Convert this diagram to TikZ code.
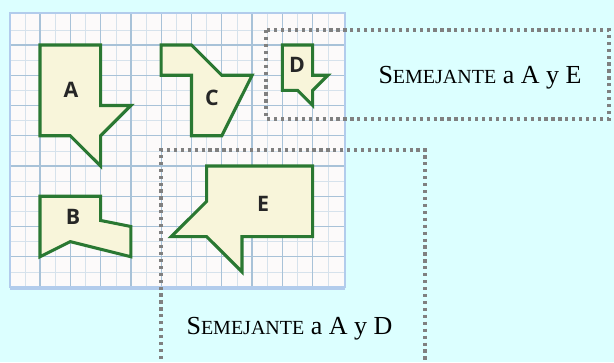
\documentclass[tikz,border=0pt]{standalone}
\usepackage{fontspec}
\setmainfont{Liberation Serif}
\newfontfamily\lblfont{Open Sans}
\definecolor{bgcyan}{RGB}{220,255,255}
\definecolor{paper}{RGB}{252,250,250}
\definecolor{gridmaj}{RGB}{168,194,216}
\definecolor{gridmin}{RGB}{214,226,236}
\definecolor{paperedge}{RGB}{178,204,236}
\definecolor{shapefill}{RGB}{248,245,218}
\definecolor{shapeline}{RGB}{42,120,50}
\definecolor{dotgray}{RGB}{128,128,128}
\tikzset{
  gridline/.style={draw=gridmaj, line width=1pt},
  minorline/.style={draw=gridmin, line width=0.6pt},
  figure/.style={draw=shapeline, fill=shapefill, line width=2.3pt, line join=miter},
  letter/.style={font=\lblfont\bfseries\fontsize{16}{16}\selectfont, text=black!85, inner sep=0pt},
  dotbox/.style={draw=dotgray, line width=2.4pt, dash pattern=on 2.4pt off 2.8pt},
  caption/.style={inner sep=0pt, anchor=base, text=black}
}
\newcommand{\semej}[1]{{\fontsize{19.5}{20}\selectfont S{\fontsize{15}{16}\selectfont EMEJANTE} a A y #1}}
\begin{document}
\begin{tikzpicture}[x=0.75pt,y=-0.75pt]
\useasboundingbox (0,0) rectangle (614,362);
\fill[bgcyan] (0,0) rectangle (614,362);
% paper
\fill[paper] (10,13) rectangle (345,288);
\foreach \i in {0,1,2,3,4,5,6,7,8,9,10} {
  \pgfmathsetmacro{\xx}{25+30.3*\i}
  \draw[minorline] (\xx,13) -- (\xx,288);
}
\foreach \j in {0,1,2,3,4,5,6,7,8} {
  \pgfmathsetmacro{\yy}{30+30.25*\j}
  \draw[minorline] (10,\yy) -- (345,\yy);
}
\foreach \i in {0,1,2,3,4,5,6,7,8,9} {
  \pgfmathsetmacro{\xx}{40+30.3*\i}
  \draw[gridline] (\xx,13) -- (\xx,288);
}
\foreach \j in {0,1,2,3,4,5,6,7} {
  \pgfmathsetmacro{\yy}{45+30.25*\j}
  \draw[gridline] (10,\yy) -- (345,\yy);
}
\draw[paperedge, line width=1.2pt] (10,288) -- (10,13) -- (345,13) -- (345,288);
\draw[paperedge, line width=2.4pt] (10,288) -- (345,288);
% figures
\begin{scope}[shift={(40,45)}, x=22.725pt, y=-22.6875pt]
\draw[figure] (0,0) -- (2,0) -- (2,2) -- (3,2) -- (2,3) -- (2,4) -- (1,3) -- (0,3) -- cycle;
\draw[figure] (4,0) -- (5,0) -- (6,1) -- (7,1) -- (6,3) -- (5,3) -- (5,1) -- (4,1) -- cycle;
\draw[figure] (8,0) -- (9,0) -- (9,1) -- (9.5,1) -- (9,1.5) -- (9,2) -- (8.5,1.5) -- (8,1.5) -- cycle;
\draw[figure] (0,5) -- (2,5) -- (2,5.8) -- (3,6) -- (3,7) -- (1,6.5) -- (0,7) -- cycle;
\draw[figure] (5.5,4) -- (9,4) -- (9,6.333) -- (6.667,6.333) -- (6.667,7.5) -- (5.5,6.333) -- (4.333,6.333) -- (5.5,5.167) -- cycle;
\end{scope}
% letters
\node[letter] (la) at (71,90) {A};
\node[letter] (lb) at (73,217) {B};
\node[letter] (lc) at (212,98) {C};
\node[letter] (ld) at (297,65) {D};
\node[letter] (le) at (263,204) {E};
% dotted boxes
\draw[dotbox] (266,30) rectangle (609,119);
\draw[dotbox] (161,366) -- (161,150) -- (425,150) -- (425,366);
% captions
\node[caption] (cape) at (480,83) {\semej{E}};
\node[caption] (capd) at (289.5,334) {\semej{D}};
\end{tikzpicture}
\end{document}
